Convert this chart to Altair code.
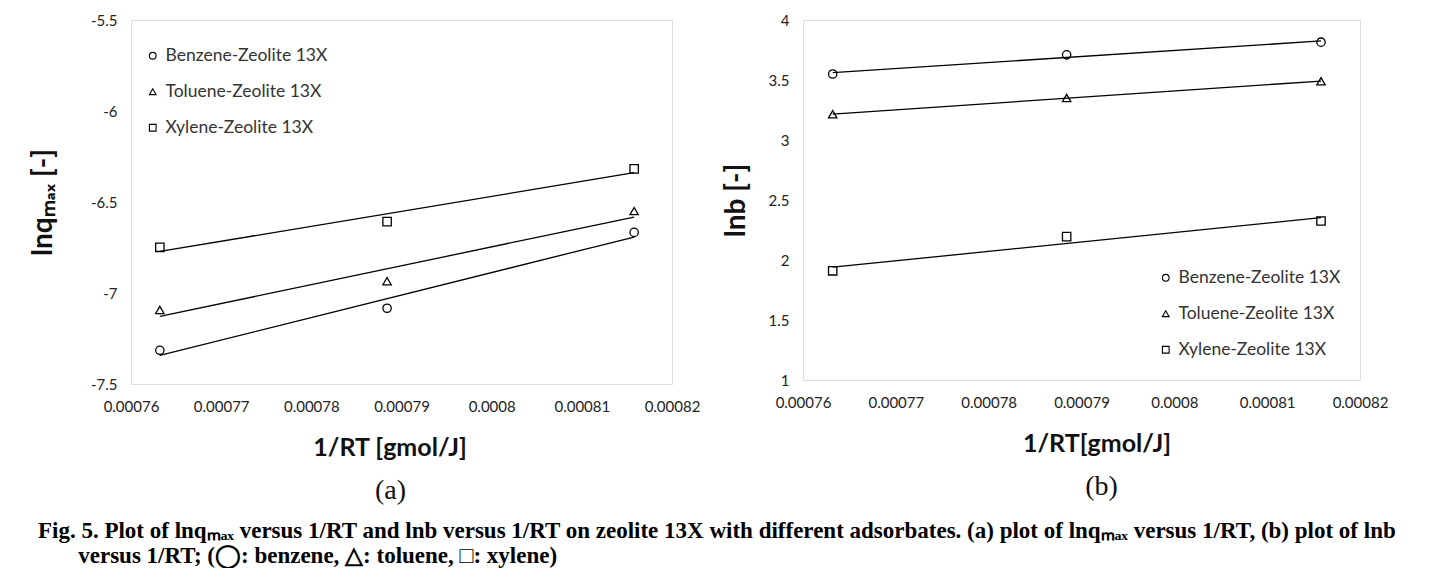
import altair as alt
import pandas as pd

# ---- data ----
inv_rt = [0.0007632, 0.0007884, 0.0008158]
series_names = ["Benzene-Zeolite 13X", "Toluene-Zeolite 13X", "Xylene-Zeolite 13X"]
lnqmax_benzene = [-7.315, -7.084, -6.667]
lnqmax_toluene = [-7.093, -6.935, -6.550]
lnqmax_xylene = [-6.749, -6.608, -6.318]
lnb_benzene = [3.550, 3.710, 3.815]
lnb_toluene = [3.215, 3.350, 3.490]
lnb_xylene = [1.910, 2.195, 2.325]
x_ticks = [0.00076, 0.00077, 0.00078, 0.00079, 0.0008, 0.00081, 0.00082]
y_ticks_a = [-7.5, -7, -6.5, -6, -5.5]
y_ticks_b = [1, 1.5, 2, 2.5, 3, 3.5, 4]
shapes = ["circle", "triangle-up", "square"]

caption_line1 = ("Fig. 5. Plot of lnq\u2098\u2090\u2093 versus 1/RT and lnb versus 1/RT on zeolite 13X "
                 "with different adsorbates. (a) plot of lnq\u2098\u2090\u2093 versus 1/RT, (b) plot of lnb")
caption_line2 = "\u200b" + "\u00a0" * 7 + "versus 1/RT; (\u25ef: benzene, \u25b3: toluene, \u25a1: xylene)"


def make_df(ys):
    rows = []
    for name, vals in zip(series_names, ys):
        for x, y in zip(inv_rt, vals):
            rows.append({"x": x, "y": y, "series": name})
    return pd.DataFrame(rows)


df_a = make_df([lnqmax_benzene, lnqmax_toluene, lnqmax_xylene])
df_b = make_df([lnb_benzene, lnb_toluene, lnb_xylene])

TICK_FONT = "Lato"
LABEL_COLOR = "#222222"


def panel(df, w, h, ydom, yticks, ytitle, ytitle_pad, xtitle, xtitle_dx, tag, tag_dx,
          legend_x, legend_y):
    xs = alt.Scale(domain=[0.00076, 0.00082], nice=False, zero=False)
    ys = alt.Scale(domain=ydom, nice=False, zero=False)
    xaxis = alt.Axis(values=x_ticks, labelExpr="'' + datum.value", ticks=False, domain=False,
                     grid=False, labelPadding=15, labelFont=TICK_FONT, labelFontSize=15,
                     labelFlush=False, labelOverlap=False,
                     labelColor=LABEL_COLOR, title=xtitle, titleFont=TICK_FONT, titleFontSize=25,
                     titleFontWeight="bold", titleColor="#111111", titlePadding=21,
                     titleX=w / 2 + xtitle_dx)
    yaxis = alt.Axis(values=yticks, labelExpr="'' + datum.value", ticks=False, domain=False,
                     grid=False, labelPadding=14, labelFont=TICK_FONT, labelFontSize=15,
                     labelFlush=False, labelOverlap=False,
                     labelColor=LABEL_COLOR, title=ytitle, titleFont=TICK_FONT, titleFontSize=28,
                     titleFontWeight="bold", titleColor="#111111", titlePadding=ytitle_pad)
    base = alt.Chart(df)
    lines = base.transform_regression("x", "y", groupby=["series"]).mark_line(
        color="black", strokeWidth=1.3
    ).encode(
        x=alt.X("x:Q", scale=xs, axis=xaxis),
        y=alt.Y("y:Q", scale=ys, axis=yaxis),
        detail="series:N",
    )
    pts = base.mark_point(filled=False, color="black", size=70, strokeWidth=1.3, opacity=1).encode(
        x=alt.X("x:Q", scale=xs),
        y=alt.Y("y:Q", scale=ys),
        shape=alt.Shape(
            "series:N",
            scale=alt.Scale(domain=series_names, range=shapes),
            legend=alt.Legend(
                title=None, orient="none", legendX=legend_x, legendY=legend_y,
                labelFont=TICK_FONT, labelFontSize=17.5, labelColor="#333333", labelLimit=400,
                symbolSize=45, symbolStrokeColor="black", symbolStrokeWidth=1.1,
                symbolFillColor="white", rowPadding=17, labelOffset=4, padding=0,
            ),
        ),
    )
    tag_df = pd.DataFrame({"t": [tag]})
    tag_text = alt.Chart(tag_df).mark_text(
        font="Liberation Serif", fontSize=28, color="#111111", baseline="middle", align="center"
    ).encode(x=alt.value(w / 2 + tag_dx), y=alt.value(h + 107), text="t:N")
    return alt.layer(lines, pts, tag_text).properties(width=w, height=h)


left = panel(df_a, 541, 364, [-7.5, -5.5], y_ticks_a, "lnq\u2098\u2090\u2093 [-]", 33,
             "1/RT [gmol/J]", -12, "(a)", -11, 13, 27)
right = panel(df_b, 557, 360, [1, 4], y_ticks_b, "lnb [-]", 18, "1/RT[gmol/J]",
              15, "(b)", 20, 354, 249)

chart = alt.hconcat(left, right, spacing=20).resolve_scale(shape="independent").resolve_legend(
    shape="independent"
).properties(
    padding={"left": 20, "top": 4, "right": 0, "bottom": 0},
    title=alt.TitleParams(
        text=[caption_line1, caption_line2], orient="bottom", anchor="start",
        font="Liberation Serif", fontSize=23, fontWeight="bold", color="black",
        lineHeight=25, dx=9, offset=14,
    ),
).configure_view(stroke="#222222", strokeWidth=1.2).configure(background="white")

chart.save("out.html", embed_options={"renderer": "svg", "actions": False})
